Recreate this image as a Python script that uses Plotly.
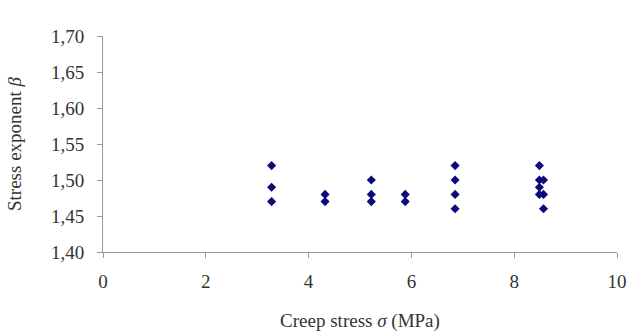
import plotly.graph_objects as go

# Creep stress (MPa) and measured stress exponent for each test
creep_stress = [3.28, 3.28, 3.28,
                4.32, 4.32,
                5.22, 5.22, 5.22,
                5.88, 5.88,
                6.85, 6.85, 6.85, 6.85,
                8.49, 8.49, 8.49, 8.49,
                8.57, 8.57, 8.57]
stress_exponent = [1.52, 1.49, 1.47,
                   1.48, 1.47,
                   1.50, 1.48, 1.47,
                   1.48, 1.47,
                   1.52, 1.50, 1.48, 1.46,
                   1.52, 1.50, 1.49, 1.48,
                   1.50, 1.48, 1.46]

x_ticks = [0, 2, 4, 6, 8, 10]
y_ticks = [1.40, 1.45, 1.50, 1.55, 1.60, 1.65, 1.70]

font_family = "Liberation Serif, Times New Roman, serif"
axis_grey = "#9a9a9a"

fig = go.Figure(
    go.Scatter(
        x=creep_stress,
        y=stress_exponent,
        mode="markers",
        marker=dict(symbol="diamond", size=7, color="#0a0a7a"),
        showlegend=False,
    )
)

fig.update_layout(
    width=630,
    height=336,
    margin=dict(l=103, r=13, t=36, b=84),
    paper_bgcolor="white",
    plot_bgcolor="white",
    separators=",.",
    font=dict(family=font_family, size=19, color="#333333"),
)

fig.update_xaxes(
    range=[0, 10],
    tickvals=x_ticks,
    ticks="outside",
    ticklen=5,
    tickcolor=axis_grey,
    showline=True,
    linecolor=axis_grey,
    linewidth=1,
    showgrid=False,
    zeroline=False,
    automargin=False,
    tickfont=dict(size=19),
    ticklabelstandoff=7,
    title=dict(text="Creep stress <i>σ</i> (MPa)", font=dict(size=19), standoff=22),
)

fig.update_yaxes(
    range=[1.40, 1.70],
    tickvals=y_ticks,
    tickformat=".2f",
    ticks="outside",
    ticklen=5,
    tickcolor=axis_grey,
    showline=True,
    linecolor=axis_grey,
    linewidth=1,
    showgrid=False,
    zeroline=False,
    automargin=False,
    tickfont=dict(size=19),
    ticklabelstandoff=9,
    title=dict(text="Stress exponent <i>β</i>", font=dict(size=19), standoff=24),
)

fig.write_html("out.html")
